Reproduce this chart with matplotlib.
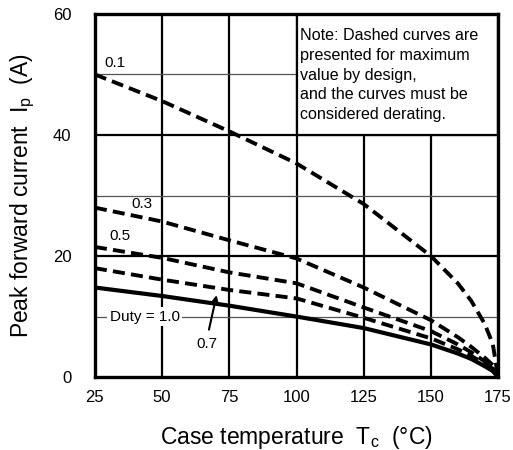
import numpy as np
import matplotlib
matplotlib.use('Agg')
import matplotlib.pyplot as plt
from matplotlib.patches import Rectangle

plt.rcParams['font.family'] = ['Liberation Sans', 'DejaVu Sans']
plt.rcParams['mathtext.fontset'] = 'custom'
plt.rcParams['mathtext.rm'] = 'Liberation Sans'

t01 = [25, 50, 75, 100, 125, 150, 160, 165, 170, 173, 175]
i01 = [50, 45.6, 40.6, 35.3, 28.6, 20, 15.5, 12.6, 8.8, 5.5, 0]
t03 = [25, 50, 75, 100, 125, 150, 160, 165, 170, 173, 175]
i03 = [28, 25.7, 22.6, 19.6, 14.8, 9.4, 6.6, 5.0, 3.2, 2.0, 0]
t05 = [25, 50, 75, 100, 125, 150, 160, 165, 170, 173, 175]
i05 = [21.5, 19.7, 17.3, 15.5, 11.5, 7.6, 5.4, 4.1, 2.6, 1.6, 0]
t07 = [25, 50, 75, 100, 125, 150, 160, 165, 170, 173, 175]
i07 = [18, 16.1, 14.4, 13.0, 9.8, 6.4, 4.6, 3.5, 2.2, 1.4, 0]
t10 = [25, 50, 75, 100, 125, 150, 160, 165, 170, 173, 175]
i10 = [14.8, 13.4, 11.8, 10.0, 8.1, 5.4, 3.9, 3.0, 1.8, 1.0, 0]

xticks = [25, 50, 75, 100, 125, 150, 175]
yticks = [0, 20, 40, 60]

fig = plt.figure(figsize=(5.13, 4.5), dpi=100)
ax = fig.add_axes([0.185, 0.162, 0.786, 0.807])

ax.set_xlim(25, 175)
ax.set_ylim(0, 60)

for x in xticks[1:-1]:
    ax.axvline(x, color='black', lw=1.6, zorder=1)
for y in [20, 40]:
    ax.axhline(y, color='black', lw=1.6, zorder=1)
for y in [10, 30, 50]:
    ax.axhline(y, color='#555555', lw=0.9, zorder=1)

dash = (0, (3.1, 1.6))
ax.plot(t01, i01, color='black', lw=2.8, linestyle=dash, zorder=3)
ax.plot(t03, i03, color='black', lw=2.8, linestyle=dash, zorder=3)
ax.plot(t05, i05, color='black', lw=2.8, linestyle=dash, zorder=3)
ax.plot(t07, i07, color='black', lw=2.8, linestyle=dash, zorder=3)
ax.plot(t10, i10, color='black', lw=3.0, zorder=3)

# note box
ax.add_patch(Rectangle((100, 40), 75, 20, facecolor='white', edgecolor='black', lw=1.6, zorder=2))
ax.text(101.3, 57.6, 'Note: Dashed curves are\npresented for maximum\nvalue by design,\nand the curves must be\nconsidered derating.',
        fontsize=11.6, va='top', ha='left', linespacing=1.38, zorder=4)

ax.text(28.5, 51.2, '0.1', fontsize=11, zorder=4)
ax.text(38.5, 28.0, '0.3', fontsize=11, zorder=4)
ax.text(30.5, 22.6, '0.5', fontsize=11, zorder=4)
ax.text(43.5, 10, 'Duty = 1.0', fontsize=11, ha='center', va='center', zorder=4,
        bbox=dict(facecolor='white', edgecolor='none', pad=1.5))
ax.text(66.8, 5.5, '0.7', fontsize=11, ha='center', va='center', zorder=4)
ax.annotate('', xy=(70.5, 14.0), xytext=(67.2, 7.4),
            arrowprops=dict(arrowstyle='-|>', color='black', lw=1.5, mutation_scale=9), zorder=4)

ax.set_xticks(xticks)
ax.set_yticks(yticks)
ax.tick_params(axis='x', length=0, labelsize=12, pad=9)
ax.tick_params(axis='y', length=0, labelsize=12, pad=17)
for s in ax.spines.values():
    s.set_linewidth(2.4)

ax.set_xlabel('Case temperature  T$_{\\mathrm{c}}$  (°C)', fontsize=16.5, labelpad=14)
ax.set_ylabel('Peak forward current  I$_{\\mathrm{p}}$  (A)', fontsize=16.5, labelpad=11)

fig.savefig('out.png', dpi=100)
